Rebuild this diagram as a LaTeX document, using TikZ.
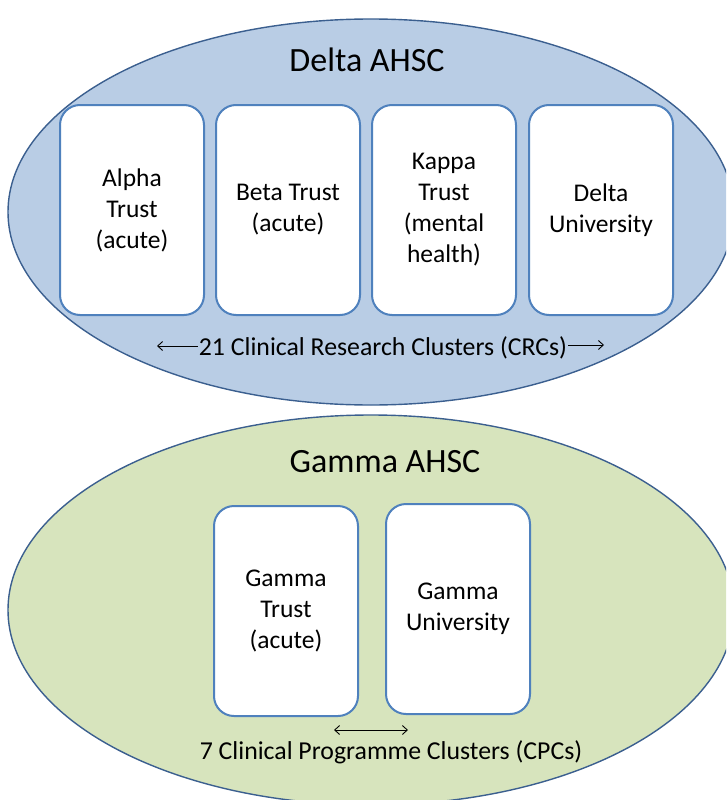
\documentclass[tikz,border=0pt]{standalone}
\usepackage{fontspec}
\setmainfont{Carlito}
\usetikzlibrary{arrows.meta}
\definecolor{deltafill}{HTML}{B9CDE5}
\definecolor{gammafill}{HTML}{D7E4BD}
\definecolor{rimblue}{HTML}{3B5F8F}
\definecolor{boxblue}{HTML}{4F81BD}
\tikzset{
  orgbox/.style={draw=boxblue, line width=2pt, fill=white, rounded corners=20pt,
    minimum width=144pt, minimum height=210pt, align=center, inner sep=0pt,
    font=\fontsize{25.5}{31}\selectfont},
  title/.style={font=\fontsize{34}{40}\selectfont},
  caption/.style={font=\fontsize{25.8}{30}\selectfont, inner sep=1pt},
  rim/.style={draw=rimblue, line width=1.4pt},
  barb/.style={line width=0.9pt, -{Straight Barb[length=5pt,width=9pt]}},
}
\begin{document}
\begin{tikzpicture}[x=1pt,y=-1pt]
\useasboundingbox (0,0) rectangle (726,800);
\clip (0,0) rectangle (726,800);

% Delta centre
\draw[rim, fill=deltafill] (371,212) ellipse [x radius=363, y radius=193];
\node[title] (deltatitle) at (367,60) {Delta AHSC};
\node[orgbox] (alpha) at (132,210) {Alpha\\Trust\\(acute)};
\node[orgbox] (beta)  at (288,210) {Beta Trust\\(acute)};
\node[orgbox] (kappa) at (444,210) {Kappa\\Trust\\(mental\\health)};
\node[orgbox] (deltauni) at (601,210) {Delta\\University};
\node[caption] (crc) at (383,348) {21 Clinical Research Clusters (CRCs)};
\coordinate (crcleft) at (157,346);
\coordinate (crcright) at (604,345);
\draw[barb] (crc.west) ++(0,-2) -- (crcleft);
\draw[barb] (crc.east) ++(0,-3) -- (crcright);

% Gamma centre
\draw[rim, fill=gammafill] (371,610) ellipse [x radius=363, y radius=195];
\node[title] (gammatitle) at (385,462) {Gamma AHSC};
\node[orgbox] (gtrust) at (286,611) {Gamma\\Trust\\(acute)};
\node[orgbox] (guni)   at (458,609) {Gamma\\University};
\coordinate (cpcleft) at (334,730);
\coordinate (cpcright) at (408,730);
\draw[line width=0.9pt, {Straight Barb[length=5pt,width=9pt]}-{Straight Barb[length=5pt,width=9pt]}] (cpcleft) -- (cpcright);
\node[caption] (cpc) at (391,752) {7 Clinical Programme Clusters (CPCs)};
\end{tikzpicture}
\end{document}
